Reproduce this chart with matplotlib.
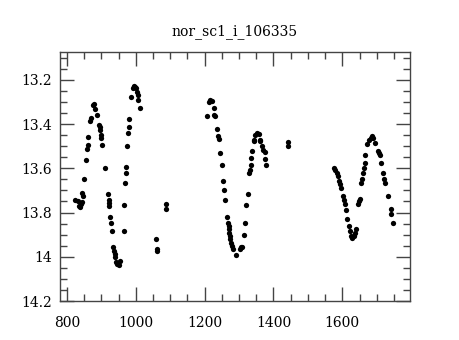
import numpy as np
import matplotlib
matplotlib.use("Agg")
import matplotlib.pyplot as plt
from matplotlib.ticker import MultipleLocator, FuncFormatter

title = "nor_sc1_i_106335"

# time / magnitude
t = [824, 831, 834, 839, 842, 844, 846, 845, 850, 856, 858, 860, 862, 866, 870,
     877, 880, 883, 887, 892, 895, 897, 898, 900, 903, 911, 919, 921, 922, 923,
     926, 928, 930, 935, 938, 940, 941, 943, 947, 950, 955,
     965, 967, 970, 972, 973, 976, 977, 979, 980, 987, 992, 994, 996, 999, 1001,
     1003, 1006, 1008, 1013,
     1058, 1061, 1062, 1088, 1087,
     1207, 1212, 1217, 1222, 1226, 1228, 1231, 1236, 1238, 1241, 1246, 1251,
     1253, 1257, 1260, 1265, 1268, 1270, 1271, 1272, 1273, 1275, 1277, 1280,
     1283, 1292, 1302, 1306, 1309, 1313, 1318, 1321, 1326, 1330, 1332, 1335,
     1336, 1339, 1342, 1344, 1347, 1352, 1357, 1360, 1362, 1367, 1370, 1374,
     1376, 1378,
     1443, 1441,
     1575, 1580, 1583, 1587, 1590, 1592, 1597, 1601, 1604, 1607, 1610, 1614,
     1619, 1621, 1626, 1628, 1633, 1637, 1639, 1646, 1648, 1650, 1655, 1656,
     1659, 1662, 1665, 1667, 1672, 1676, 1682, 1686, 1690, 1696, 1703, 1705,
     1709, 1713, 1719, 1722, 1725, 1732, 1740, 1742, 1747]

mag = [13.745, 13.748, 13.771, 13.773, 13.763, 13.753, 13.723, 13.710, 13.650,
       13.564, 13.512, 13.494, 13.457, 13.385, 13.373, 13.313, 13.308, 13.332,
       13.359, 13.403, 13.413, 13.425, 13.448, 13.463, 13.493, 13.600, 13.718,
       13.745, 13.757, 13.771, 13.818, 13.849, 13.882, 13.958, 13.974, 13.988,
       14.003, 14.023, 14.033, 14.038, 14.019,
       13.883, 13.768, 13.665, 13.620, 13.593, 13.500, 13.440, 13.413, 13.377,
       13.278, 13.237, 13.229, 13.233, 13.230, 13.237, 13.253, 13.268, 13.290,
       13.327,
       13.921, 13.967, 13.975, 13.762, 13.783,
       13.362, 13.298, 13.290, 13.295, 13.327, 13.358, 13.365, 13.422, 13.455,
       13.466, 13.530, 13.587, 13.658, 13.700, 13.744, 13.819, 13.846, 13.861,
       13.876, 13.891, 13.906, 13.921, 13.936, 13.951, 13.963, 13.992, 13.966,
       13.958, 13.955, 13.903, 13.846, 13.768, 13.714, 13.620, 13.609, 13.583,
       13.555, 13.521, 13.478, 13.470, 13.448, 13.440, 13.443, 13.473, 13.475,
       13.497, 13.515, 13.526, 13.560, 13.584,
       13.479, 13.499,
       13.598, 13.609, 13.620, 13.636, 13.658, 13.673, 13.688, 13.726, 13.741,
       13.763, 13.789, 13.828, 13.861, 13.883, 13.906, 13.913, 13.906, 13.891,
       13.873, 13.763, 13.748, 13.737, 13.665, 13.650, 13.620, 13.598, 13.575,
       13.538, 13.488, 13.470, 13.461, 13.455, 13.461, 13.485, 13.523, 13.530,
       13.538, 13.578, 13.620, 13.647, 13.665, 13.723, 13.786, 13.808, 13.849]

plt.rcParams['font.family'] = 'DejaVu Serif'
plt.rcParams['font.size'] = 10

fig = plt.figure(figsize=(4.6, 3.4), dpi=100)
ax = fig.add_axes([0.1304, 0.1147, 0.7606, 0.7323])

ax.plot(t, mag, "o", color="black", markersize=3.8, markeredgewidth=0)

ax.set_xlim(780, 1796)
ax.set_ylim(14.2, 13.074)

ax.xaxis.set_major_locator(MultipleLocator(200))
ax.xaxis.set_minor_locator(MultipleLocator(50))
ax.yaxis.set_major_locator(MultipleLocator(0.2))
ax.yaxis.set_minor_locator(MultipleLocator(0.05))
ax.yaxis.set_major_formatter(FuncFormatter(lambda v, p: "%g" % round(v, 2)))

ax.tick_params(which="both", direction="in", top=True, right=True, color="#444444")
ax.tick_params(which="major", length=10, width=1)
ax.tick_params(which="minor", length=5, width=1)
ax.tick_params(axis="x", which="major", pad=11)
ax.tick_params(axis="y", which="major", pad=6)

for s in ax.spines.values():
    s.set_color("#444444")
    s.set_linewidth(1)

ax.set_title(title, fontsize=10, pad=12)

fig.savefig("out.png", dpi=100)
